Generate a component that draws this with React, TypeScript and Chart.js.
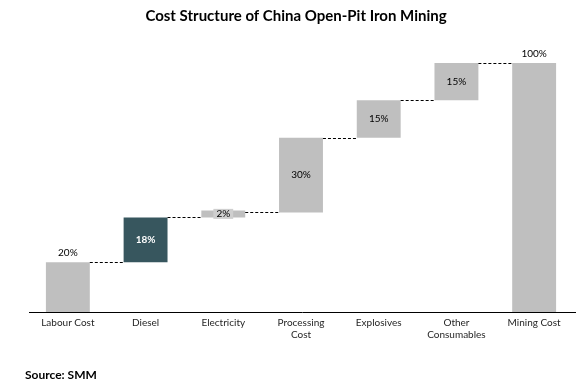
import React, { useEffect, useRef } from "react";
import { Chart, registerables } from "chart.js";

Chart.register(...registerables);

const categories: (string | string[])[] = [
  "Labour Cost",
  "Diesel",
  "Electricity",
  ["Processing", "Cost"],
  "Explosives",
  ["Other", "Consumables"],
  "Mining Cost",
];
const shares = [20, 18, 2, 30, 15, 15];
const total = 100;
const valueLabels = ["20%", "18%", "2%", "30%", "15%", "15%", "100%"];
const barColors = ["#BFBFBF", "#37565E", "#BFBFBF", "#BFBFBF", "#BFBFBF", "#BFBFBF", "#BFBFBF"];
const labelInside = [false, true, true, true, true, true, false];
const titleText = "Cost Structure of China Open-Pit Iron Mining";
const sourceText = "Source: SMM";

const FONT = "Lato, 'Open Sans', sans-serif";

export default function App() {
  const ref = useRef<HTMLCanvasElement>(null);
  useEffect(() => {
    document.body.style.margin = "0";
    const floating: [number, number][] = [];
    let acc = 0;
    shares.forEach((s) => {
      floating.push([acc, acc + s]);
      acc += s;
    });
    floating.push([0, total]);

    const overlay = {
      id: "overlay",
      afterDatasetsDraw(chart: any) {
        const ctx = chart.ctx;
        const meta = chart.getDatasetMeta(0);
        const y = chart.scales.y;
        const area = chart.chartArea;
        ctx.save();
        ctx.strokeStyle = "#000";
        ctx.lineWidth = 1;
        ctx.beginPath();
        ctx.moveTo(area.left, Math.round(area.bottom) + 0.5);
        ctx.lineTo(area.right + 3, Math.round(area.bottom) + 0.5);
        ctx.stroke();
        ctx.setLineDash([3, 2]);
        for (let i = 0; i < meta.data.length - 1; i++) {
          const a = meta.data[i];
          const b = meta.data[i + 1];
          const level = floating[i][1];
          const yy = Math.round(y.getPixelForValue(level)) + 0.5;
          ctx.beginPath();
          ctx.moveTo(a.x + a.width / 2, yy);
          ctx.lineTo(b.x - b.width / 2, yy);
          ctx.stroke();
        }
        ctx.setLineDash([]);
        ctx.textAlign = "center";
        ctx.textBaseline = "middle";
        meta.data.forEach((bar: any, i: number) => {
          const inside = labelInside[i];
          const isDark = i === 1;
          ctx.font = (isDark ? "bold " : "") + "10px " + FONT;
          ctx.fillStyle = isDark ? "#FFFFFF" : "#000000";
          const ty = inside ? (bar.y + bar.base) / 2 : bar.y - 9;
          if (i === 2) {
            const w = ctx.measureText(valueLabels[i]).width + 6;
            ctx.fillStyle = "#CFCFCF";
            ctx.fillRect(bar.x - w / 2, ty - 5, w, 10);
            ctx.fillStyle = "#000";
          }
          ctx.fillText(valueLabels[i], bar.x, ty);
        });
        ctx.font = "bold 15px " + FONT;
        ctx.fillStyle = "#000";
        ctx.textAlign = "center";
        ctx.fillText(titleText, 296, 16);
        ctx.font = "bold 12px " + FONT;
        ctx.textAlign = "left";
        ctx.fillText(sourceText, 25, 375);
        ctx.restore();
      },
    };

    const chart = new Chart(ref.current!, {
      type: "bar",
      data: {
        labels: categories,
        datasets: [
          {
            data: floating as any,
            backgroundColor: barColors,
            borderWidth: 0,
            barPercentage: 1,
            categoryPercentage: 0.565,
            minBarLength: 7,
          },
        ],
      },
      options: {
        animation: false,
        responsive: false,
        maintainAspectRatio: false,
        layout: { padding: { top: 63, bottom: 20, left: 29, right: 10 } },
        plugins: { legend: { display: false }, tooltip: { enabled: false }, title: { display: false } },
        scales: {
          x: {
            grid: { display: false, drawTicks: false },
            border: { display: false },
            ticks: {
              color: "#262626",
              font: { size: 10, family: FONT },
              padding: 5,
              maxRotation: 0,
              autoSkip: false,
            },
            afterFit(scale: any) {
              scale.height = 54;
            },
          },
          y: {
            display: false,
            min: 0,
            max: 100,
          },
        },
      },
      plugins: [overlay],
    });
    return () => chart.destroy();
  }, []);
  return (
    <div style={{ width: 583, height: 386, background: "#fff" }}>
      <canvas ref={ref} width={583} height={386} style={{ display: "block" }} />
    </div>
  );
}
